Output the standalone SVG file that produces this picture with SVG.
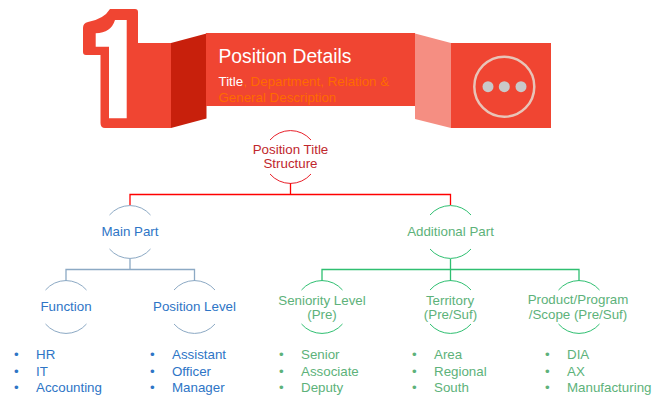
<svg xmlns="http://www.w3.org/2000/svg" width="654" height="397" viewBox="0 0 654 397">
<style>
text{font-family:"Liberation Sans",Arial,sans-serif}
.c{text-anchor:middle}
.n{font-size:13.330px}
.l{font-size:13.330px}
.r{fill:#C0272D}.b{fill:#2E75C6}.g{fill:#5DB27A}
.red{fill:#F04532}
.cr,.cb,.cg{fill:none;stroke-width:1.3}
.cr{stroke:#FF0000}.cb{stroke:#8CA9C4}.cg{stroke:#2FBF71}
</style>
<defs>
<g id="ring"><path d="M-20.500,-17A27,27 0 0 1 20.500,-17M-20.500,17A27,27 0 0 0 20.500,17" fill="none" stroke-width="1"/></g>
</defs>
<g id="banner">
<path class="red" d="M110,9H135Q138,9 138,12V43H171V128H105Q100.500,128 100.500,123V55H86Q83,55 83,52V28Q83,23 88,22Q104,19 110,9Z"/>
<path fill="#fff" d="M109,20H126.700V118.300H109V46.700H95.700V33.300Q111,33 115,20Z"/>
<path fill="#C8200C" d="M171,43L206.500,33.500V118.500L171,128Z"/>
<rect class="red" x="206" y="33" width="209" height="73"/>
<path fill="#F58E82" d="M415,33.500L451,43V128L415,119Z"/>
<rect class="red" x="451" y="43" width="100" height="85"/>
<circle cx="504.300" cy="86.700" r="30" fill="none" stroke="#E8C4B8" stroke-width="2.500"/>
<circle cx="488" cy="86.700" r="5.500" fill="#C9C9C9"/>
<circle cx="504.300" cy="86.700" r="5.500" fill="#C9C9C9"/>
<circle cx="521" cy="86.700" r="5.500" fill="#C9C9C9"/>
<text x="218.500" y="63" font-size="19.300" fill="#fff">Position Details</text>
<text x="218.500" y="86" font-size="13.330" fill="#FF6A00"><tspan fill="#fff">Title</tspan>, Department, Relation &amp;</text>
<text x="218.500" y="102" font-size="13.330" fill="#FF6A00">General Description</text>
</g>
<g id="connectors">
<path class="cr" d="M290.500,183V194.500M130,205V194.500H450.500V205"/>
<path class="cb" d="M130,259V269.500M66,281V269.500H194.500V281"/>
<path class="cg" d="M450.500,259V269.500M322,281V269.500H579V281M450.500,269.500V281"/>
</g>
<g id="position-title"><use href="#ring" x="290.500" y="157" stroke="#E8202A"/>
<text class="c n r" x="290.500" y="154">Position Title</text><text class="c n r" x="290.500" y="168">Structure</text></g>
<g id="main-part"><use href="#ring" x="130" y="232" stroke="#8CA9C4"/>
<text class="c n b" x="130" y="236">Main Part</text></g>
<g id="additional-part"><use href="#ring" x="450.500" y="232" stroke="#2FBF71"/>
<text class="c n g" x="450.500" y="236">Additional Part</text></g>
<g id="function"><use href="#ring" x="66" y="307" stroke="#8CA9C4"/>
<text class="c n b" x="66" y="311">Function</text></g>
<g id="position-level"><use href="#ring" x="194.500" y="307" stroke="#8CA9C4"/>
<text class="c n b" x="194.500" y="311">Position Level</text></g>
<g id="seniority"><use href="#ring" x="322" y="307" stroke="#2FBF71"/>
<text class="c n g" x="322" y="305">Seniority Level</text><text class="c n g" x="322" y="319">(Pre)</text></g>
<g id="territory"><use href="#ring" x="450.500" y="307" stroke="#2FBF71"/>
<text class="c n g" x="450" y="305">Territory</text><text class="c n g" x="450.500" y="319">(Pre/Suf)</text></g>
<g id="product"><use href="#ring" x="579" y="307" stroke="#2FBF71"/>
<text class="c n g" x="578" y="304">Product/Program</text><text class="c n g" x="578" y="319">/Scope (Pre/Suf)</text></g>
<g id="list-function" class="l b"><text x="14" y="359">•</text><text x="14" y="376">•</text><text x="14" y="392">•</text><text x="36" y="359">HR</text><text x="36" y="376">IT</text><text x="36" y="392">Accounting</text></g>
<g id="list-level" class="l b"><text x="150" y="359">•</text><text x="150" y="376">•</text><text x="150" y="392">•</text><text x="172" y="359">Assistant</text><text x="172" y="376">Officer</text><text x="172" y="392">Manager</text></g>
<g id="list-seniority" class="l g"><text x="279" y="359">•</text><text x="279" y="376">•</text><text x="279" y="392">•</text><text x="301" y="359">Senior</text><text x="301" y="376">Associate</text><text x="301" y="392">Deputy</text></g>
<g id="list-territory" class="l g"><text x="412" y="359">•</text><text x="412" y="376">•</text><text x="412" y="392">•</text><text x="434" y="359">Area</text><text x="434" y="376">Regional</text><text x="434" y="392">South</text></g>
<g id="list-product" class="l g"><text x="545" y="359">•</text><text x="545" y="376">•</text><text x="545" y="392">•</text><text x="567" y="359">DIA</text><text x="567" y="376">AX</text><text x="567" y="392">Manufacturing</text></g>
</svg>
